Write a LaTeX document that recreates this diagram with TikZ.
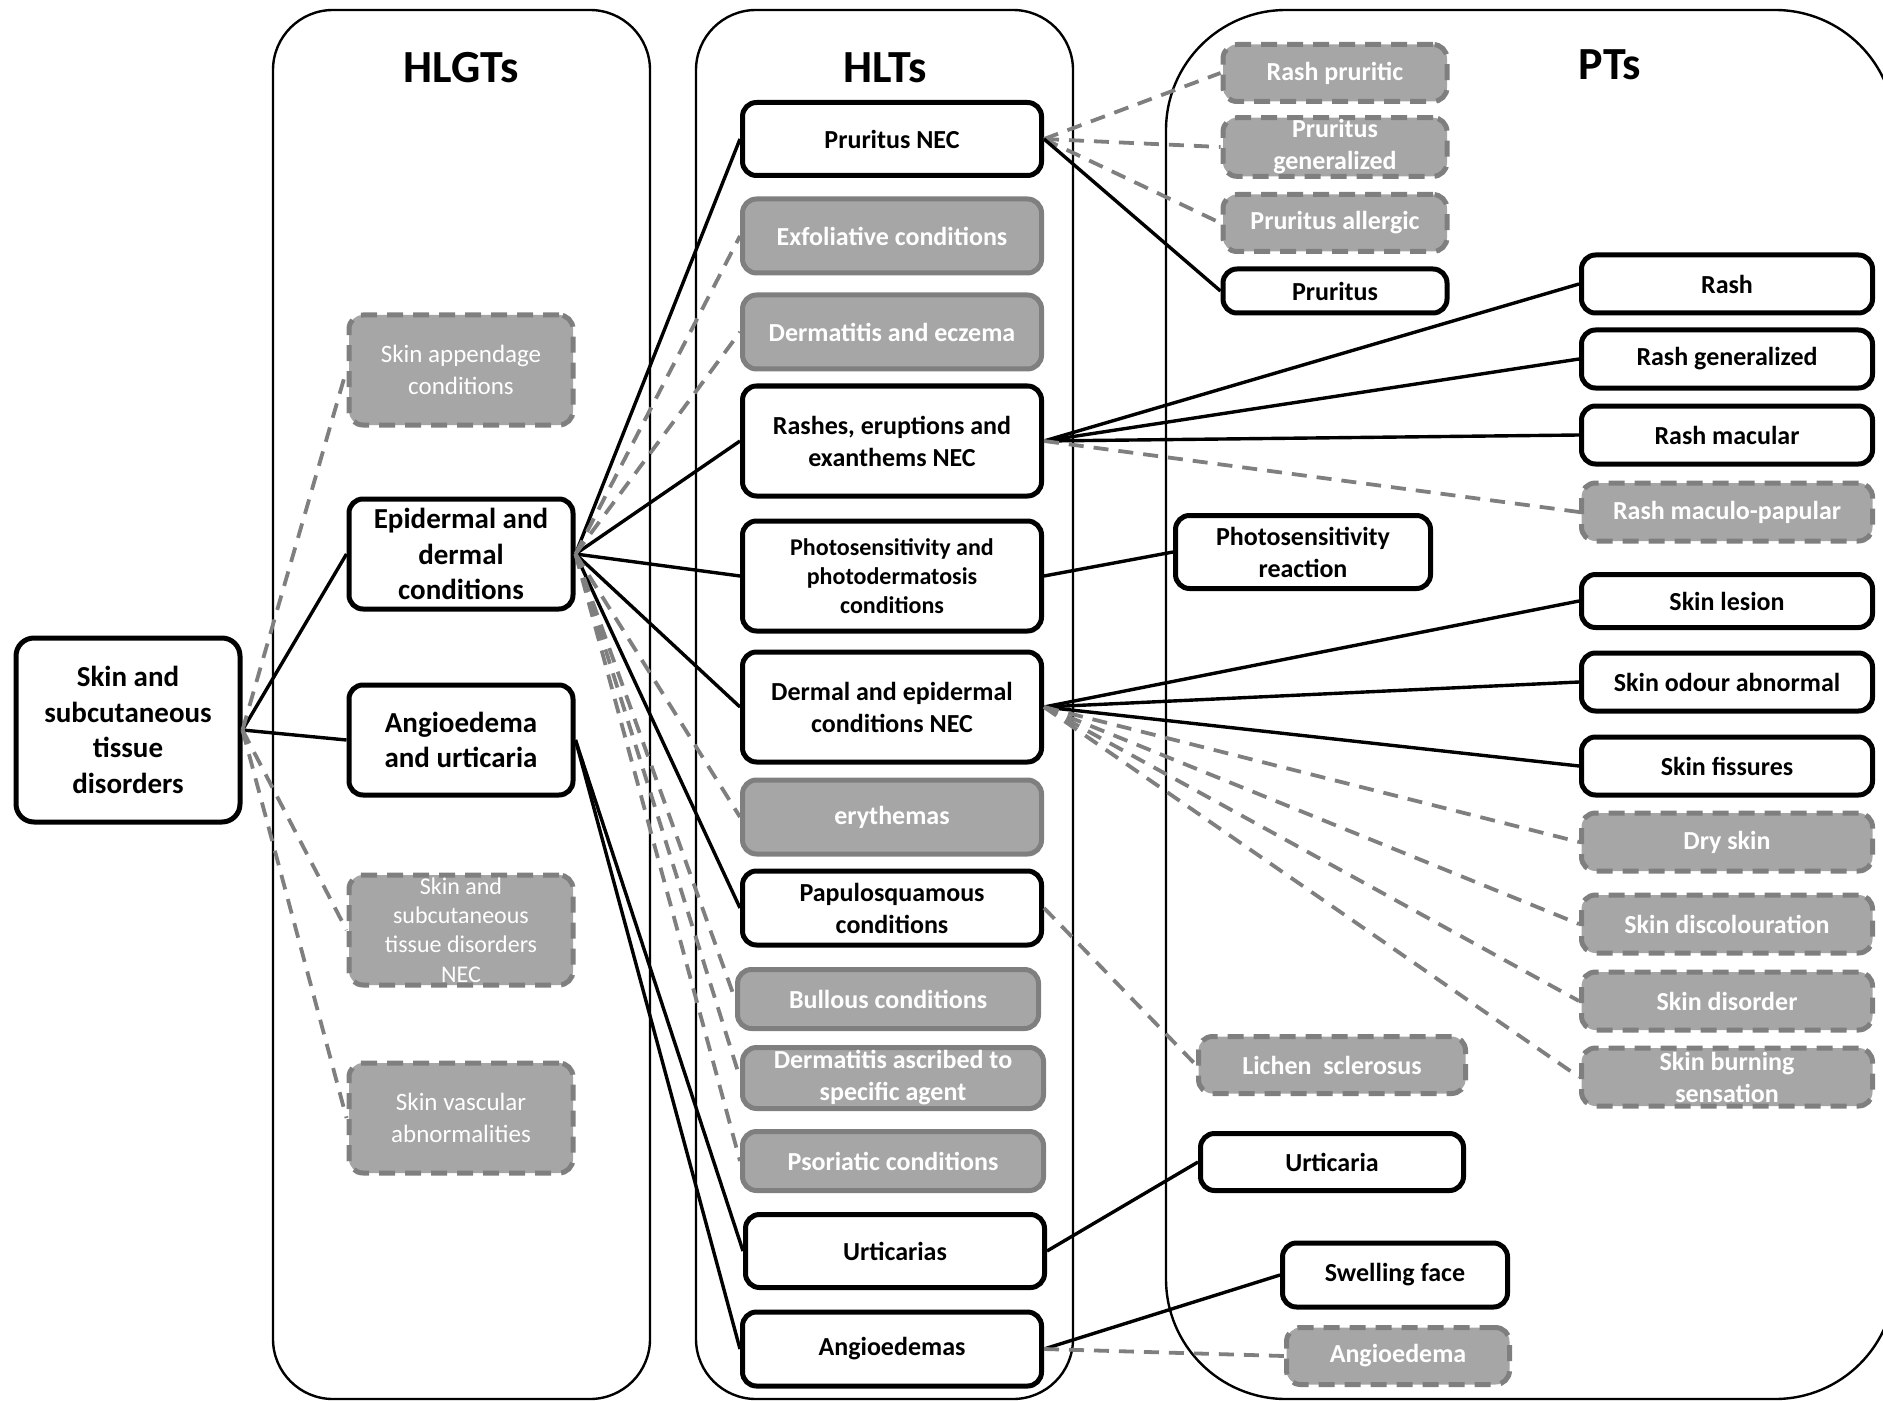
\documentclass[tikz,border=0pt]{standalone}
\usepackage{fontspec}
\setmainfont{Carlito}
\usepackage{xcolor}
\definecolor{boxFill}{HTML}{A6A6A6}
\definecolor{boxEdge}{HTML}{7F7F7F}
\tikzset{
    font=\bfseries\fontsize{13}{16}\selectfont,
    % Colours
    termWhite/.style={draw=black, fill=white, text=black},
    termGrey/.style={draw=boxEdge, fill=boxFill, text=white},
    % Shapes
    term/.style={rectangle, line width=2.5pt, rounded corners=7pt, align=center, inner sep=1pt, termWhite},
    termNA/.style={term, termGrey},
    termOut/.style={term, termGrey, dash pattern=on 8pt off 5pt},
    panel/.style={draw, line width=1.2pt},
    heading/.style={font=\bfseries\fontsize{23}{27}\selectfont},
    % Sizes
    big/.style={font=\bfseries\fontsize{14.5}{17.7}\selectfont},
    thin/.style={font=\fontsize{12.5}{15.6}\selectfont},
    hlgt/.style={minimum width=112pt, minimum height=55pt},
    hlt/.style={minimum width=149.5pt, minimum height=36.5pt},
    hltTall/.style={minimum width=149.5pt, minimum height=55pt},
    ptL/.style={minimum width=112pt, minimum height=28.5pt},
    ptR/.style={minimum width=145.5pt, minimum height=29pt},
    % Links
    link/.style={line width=1.7pt},
    linkOut/.style={line width=1.9pt, boxEdge, dash pattern=on 7.5pt off 5pt}
}

\begin{document}
\begin{tikzpicture}[x=0.5pt, y=-0.5pt]
\useasboundingbox (0,0) rectangle (1883,1401);

% Panels
\draw[panel, rounded corners=30pt] (273,10) rectangle (650,1399);
\draw[panel, rounded corners=30pt] (696,10) rectangle (1073,1399);
\draw[panel, rounded corners=60pt] (1166,10) rectangle (1895,1399);
\node[heading] (hHLGT) at (461,68) {HLGTs};
\node[heading] (hHLT) at (885,68) {HLTs};
\node[heading] (hPT) at (1610,65) {PTs};

% SOC
\node[term, big, rounded corners=9pt, minimum width=112pt, minimum height=92pt] (soc) at (128,730) {Skin and\\subcutaneous\\tissue\\disorders};

% HLGTs
\node[termOut, thin, hlgt] (append) at (461,370) {Skin appendage\\conditions};
\node[term, big, hlgt] (epi) at (461,554) {Epidermal and\\dermal\\conditions};
\node[term, big, hlgt] (angurt) at (461,740) {Angioedema\\and urticaria};
\node[termOut, hlgt, font=\fontsize{12}{14.6}\selectfont] (socNEC) at (461,930) {Skin and\\subcutaneous\\tissue disorders\\NEC};
\node[termOut, thin, hlgt] (vasc) at (461,1118) {Skin vascular\\abnormalities};

% HLTs
\node[term, hlt] (pruNEC) at (892,139) {Pruritus NEC};
\node[termNA, hlt, minimum height=37pt] (exfol) at (892,236) {Exfoliative conditions};
\node[termNA, hlt, minimum height=37pt] (dermEcz) at (892,332) {Dermatitis and eczema};
\node[term, hltTall] (rashes) at (892,441) {Rashes, eruptions and\\exanthems NEC};
\node[term, hltTall, font=\bfseries\fontsize{12}{14.4}\selectfont] (photo) at (892,576) {Photosensitivity and\\photodermatosis\\conditions};
\node[term, hltTall] (dermNEC) at (892,707) {Dermal and epidermal\\conditions NEC};
\node[termNA, hlt, minimum height=37pt] (ery) at (892,817) {erythemas};
\node[term, hlt, minimum height=37pt] (papulo) at (892,908) {Papulosquamous\\conditions};
\node[termNA, hlt, minimum width=150.5pt, minimum height=29.5pt] (bullous) at (888,999) {Bullous conditions};
\node[termNA, hlt, minimum width=150.5pt, minimum height=30.5pt] (ascribed) at (893,1078) {Dermatitis ascribed to\\specific agent};
\node[termNA, hlt, minimum width=150.5pt, minimum height=29.5pt] (psor) at (893,1161) {Psoriatic conditions};
\node[term, hlt] (urts) at (895,1251) {Urticarias};
\node[term, hlt, minimum height=37pt] (angs) at (892,1349) {Angioedemas};

% PTs
\node[termOut, ptL] (rashPru) at (1335,73) {Rash pruritic};
\node[termOut, ptL] (pruGen) at (1335,147) {Pruritus\\generalized};
\node[termOut, ptL] (pruAll) at (1335,223) {Pruritus allergic};
\node[term, ptL, minimum height=22pt] (pru) at (1335,291) {Pruritus};
\node[term, ptR] (rash) at (1727,284) {Rash};
\node[term, ptR] (rashGen) at (1727,359) {Rash generalized};
\node[term, ptR] (rashMac) at (1727,435) {Rash macular};
\node[termOut, ptR] (rashMP) at (1727,512) {Rash maculo-papular};
\node[term, minimum width=127.5pt, minimum height=36.5pt] (photoR) at (1303,552) {Photosensitivity\\reaction};
\node[term, ptR, minimum height=26.5pt] (lesion) at (1727,601) {Skin lesion};
\node[term, ptR] (odour) at (1727,682) {Skin odour abnormal};
\node[term, ptR] (fiss) at (1727,766) {Skin fissures};
\node[termOut, ptR] (dry) at (1727,842) {Dry skin};
\node[termOut, ptR] (discol) at (1727,924) {Skin discolouration};
\node[termOut, ptR] (disord) at (1727,1001) {Skin disorder};
\node[termOut, ptR] (burn) at (1727,1077) {Skin burning\\sensation};
\node[termOut, minimum width=133.5pt, minimum height=28.5pt] (lichen) at (1332,1065) {Lichen~ sclerosus};
\node[term, minimum width=131.5pt, minimum height=28.5pt] (urt) at (1332,1162) {Urticaria};
\node[term, minimum width=112.5pt, minimum height=32pt] (swell) at (1395,1275) {Swelling face};
\node[termOut, minimum width=111.5pt, minimum height=28.5pt] (ang) at (1398,1356) {Angioedema};

% SOC -> HLGTs
\draw[link] (soc.east) -- (epi.west);
\draw[link] (soc.east) -- (angurt.west);
\draw[linkOut] (soc.east) -- (append.west);
\draw[linkOut] (soc.east) -- (socNEC.west);
\draw[linkOut] (soc.east) -- (vasc.west);

% HLGTs -> HLTs
\foreach \t in {pruNEC, rashes, photo, dermNEC, papulo}
    \draw[link] (epi.east) -- (\t.west);
\foreach \t in {exfol, dermEcz, ery, bullous, ascribed, psor}
    \draw[linkOut] (epi.east) -- (\t.west);
\draw[link] (angurt.east) -- (urts.west);
\draw[link] (angurt.east) -- (angs.west);

% HLTs -> PTs
\foreach \t in {rashPru, pruGen, pruAll}
    \draw[linkOut] (pruNEC.east) -- (\t.west);
\draw[link] (pruNEC.east) -- (pru.west);
\foreach \t in {rash, rashGen, rashMac}
    \draw[link] (rashes.east) -- (\t.west);
\draw[linkOut] (rashes.east) -- (rashMP.west);
\draw[link] (photo.east) -- (photoR.west);
\foreach \t in {lesion, odour, fiss}
    \draw[link] (dermNEC.east) -- (\t.west);
\foreach \t in {dry, discol, disord, burn}
    \draw[linkOut] (dermNEC.east) -- (\t.west);
\draw[linkOut] (papulo.east) -- (lichen.west);
\draw[link] (urts.east) -- (urt.west);
\draw[link] (angs.east) -- (swell.west);
\draw[linkOut] (angs.east) -- (ang.west);

\end{tikzpicture}
\end{document}
